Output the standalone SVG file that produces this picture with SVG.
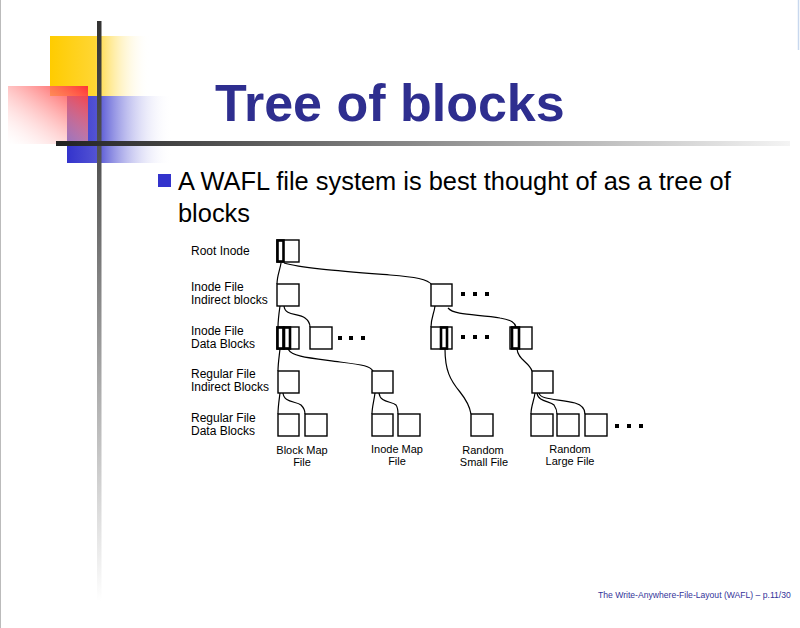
<svg xmlns="http://www.w3.org/2000/svg" width="800" height="628" viewBox="0 0 800 628">
<defs>
<linearGradient id="gy" x1="0" y1="0" x2="1" y2="0"><stop offset="0" stop-color="#ffcc00"/><stop offset="0.45" stop-color="#ffd633"/><stop offset="1" stop-color="#ffffff" stop-opacity="0"/></linearGradient>
<linearGradient id="gr" x1="1" y1="0" x2="0" y2="1"><stop offset="0" stop-color="#ff3333"/><stop offset="1" stop-color="#ffffff" stop-opacity="0.2"/></linearGradient>
<linearGradient id="gb" x1="0" y1="0" x2="1" y2="0"><stop offset="0" stop-color="#3333cc"/><stop offset="0.3" stop-color="#5555d4"/><stop offset="1" stop-color="#ffffff" stop-opacity="0"/></linearGradient>
<linearGradient id="gv" x1="0" y1="0" x2="0" y2="1"><stop offset="0" stop-color="#333333"/><stop offset="0.25" stop-color="#555555"/><stop offset="1" stop-color="#ffffff"/></linearGradient>
<linearGradient id="gh" x1="0" y1="0" x2="1" y2="0"><stop offset="0" stop-color="#222222"/><stop offset="0.4" stop-color="#777777"/><stop offset="1" stop-color="#f4f4f4"/></linearGradient>
<style>
.lbl{font-family:"Liberation Sans",Arial,sans-serif;font-size:12px;fill:#000}
.sm{font-size:11px;text-anchor:middle}
.box{fill:#fff;stroke:#000;stroke-width:1.4}
.bold{fill:none;stroke:#000;stroke-width:2.6}
.dot{fill:#000}
.con{fill:none;stroke:#000;stroke-width:1.2}
</style>
</defs>
<rect width="800" height="628" fill="#fff"/>
<line x1="0.5" y1="0" x2="0.5" y2="628" stroke="#bbbbbb" stroke-width="1"/>
<line x1="798.5" y1="0" x2="798.5" y2="50" stroke="#c8d8ee" stroke-width="1.5"/>
<g id="decor">
<rect x="50" y="36" width="100" height="60" fill="url(#gy)"/>
<rect x="67" y="96" width="105" height="67" fill="url(#gb)"/>
<rect x="8" y="86" width="80" height="58" fill="url(#gr)"/>
<rect x="97" y="21" width="4.5" height="580" fill="url(#gv)"/>
<rect x="56" y="141" width="734" height="5" fill="url(#gh)"/>
</g>
<text x="215" y="121" font-family="Liberation Sans,Arial,sans-serif" font-size="52" font-weight="bold" fill="#2e2e8f">Tree of blocks</text>
<rect x="158" y="174" width="13" height="13" fill="#3333cc"/>
<text x="178" y="190" font-family="Liberation Sans,Arial,sans-serif" font-size="25.4" fill="#000">A WAFL file system is best thought of as a tree of</text>
<text x="178" y="222" font-family="Liberation Sans,Arial,sans-serif" font-size="25.4" fill="#000">blocks</text>
<g id="labels">
<text class="lbl" x="191" y="255">Root Inode</text>
<text class="lbl" x="191" y="291">Inode File</text>
<text class="lbl" x="191" y="304">Indirect blocks</text>
<text class="lbl" x="191" y="335">Inode File</text>
<text class="lbl" x="191" y="348">Data Blocks</text>
<text class="lbl" x="191" y="378">Regular File</text>
<text class="lbl" x="191" y="391">Indirect Blocks</text>
<text class="lbl" x="191" y="422">Regular File</text>
<text class="lbl" x="191" y="435">Data Blocks</text>
<text class="lbl sm" x="302" y="454">Block Map</text>
<text class="lbl sm" x="302" y="466">File</text>
<text class="lbl sm" x="397" y="453">Inode Map</text>
<text class="lbl sm" x="397" y="465">File</text>
<text class="lbl sm" x="483" y="454">Random</text>
<text class="lbl sm" x="484" y="466">Small File</text>
<text class="lbl sm" x="570" y="453">Random</text>
<text class="lbl sm" x="570" y="465">Large File</text>
</g>
<g id="connectors">
<path class="con" d="M281,263 C280,270 277,276 277,284"/>
<path class="con" d="M284,263 C300,268 340,271 390,275 C415,277 428,279 432,285"/>
<path class="con" d="M280,306 C279,313 278,320 278,327"/>
<path class="con" d="M284,306 C285,316 298,313 305,318 C309,321 310,324 310,327"/>
<path class="con" d="M435,306 C434,314 431,318 431,327"/>
<path class="con" d="M448,308 C455,316 480,314 500,318 C512,320 515,323 516,327"/>
<path class="con" d="M280,349 C279,358 278,364 278,371"/>
<path class="con" d="M288,349 C292,357 310,358 340,362 C364,365 370,366 373,371"/>
<path class="con" d="M445,349 C445,370 450,380 460,392 C468,402 470,408 471,414"/>
<path class="con" d="M517,349 C518,360 529,362 532,371"/>
<path class="con" d="M280,393 C279,401 278,407 278,414"/>
<path class="con" d="M283,393 C284,403 296,401 301,405 C304,408 305,411 305,414"/>
<path class="con" d="M375,393 C374,401 372,407 372,414"/>
<path class="con" d="M379,393 C380,403 392,401 396,405 C398,408 398,411 398,414"/>
<path class="con" d="M535,393 C534,401 531,406 531,414"/>
<path class="con" d="M537,393 C538,402 550,401 554,405 C556,408 557,411 557,414"/>
<path class="con" d="M539,393 C540,400 560,399 575,403 C582,405 585,409 585,414"/>
</g>
<g id="n-root"><rect class="box" x="277" y="240" width="22" height="22"/><rect class="bold" x="277.5" y="240.5" width="6" height="21"/></g>
<g id="n-ifi1"><rect class="box" x="277" y="284" width="22" height="22"/></g>
<g id="n-ifi2"><rect class="box" x="431" y="284" width="21" height="22"/>
<rect class="dot" x="461" y="292" width="4" height="4"/><rect class="dot" x="473" y="292" width="4" height="4"/><rect class="dot" x="485" y="292" width="4" height="4"/></g>
<g id="n-ifd1"><rect class="box" x="277" y="327" width="22" height="22"/><rect class="bold" x="277.5" y="327.5" width="6" height="21"/><rect class="bold" x="284" y="327.5" width="6" height="21"/></g>
<g id="n-ifd2"><rect class="box" x="310" y="327" width="22" height="22"/>
<rect class="dot" x="338" y="336" width="4" height="4"/><rect class="dot" x="349" y="336" width="4" height="4"/><rect class="dot" x="361" y="336" width="4" height="4"/></g>
<g id="n-ifd3"><rect class="box" x="431" y="327" width="21" height="22"/><rect class="bold" x="441" y="327.5" width="6" height="21"/>
<rect class="dot" x="461" y="335" width="4" height="4"/><rect class="dot" x="473" y="335" width="4" height="4"/><rect class="dot" x="485" y="335" width="4" height="4"/></g>
<g id="n-ifd4"><rect class="box" x="510" y="327" width="22" height="22"/><rect class="bold" x="512" y="327.5" width="7" height="21"/></g>
<g id="n-ri1"><rect class="box" x="278" y="371" width="21" height="22"/></g>
<g id="n-ri2"><rect class="box" x="372" y="371" width="21" height="22"/></g>
<g id="n-ri3"><rect class="box" x="532" y="371" width="21" height="22"/></g>
<g id="n-bm"><rect class="box" x="278" y="414" width="21" height="22"/><rect class="box" x="305" y="414" width="22" height="22"/></g>
<g id="n-im"><rect class="box" x="372" y="414" width="21" height="22"/><rect class="box" x="398" y="414" width="22" height="22"/></g>
<g id="n-rs"><rect class="box" x="471" y="414" width="22" height="22"/></g>
<g id="n-rl"><rect class="box" x="531" y="414" width="22" height="22"/><rect class="box" x="557" y="414" width="22" height="22"/><rect class="box" x="585" y="414" width="22" height="22"/>
<rect class="dot" x="615" y="424" width="4" height="4"/><rect class="dot" x="627" y="424" width="4" height="4"/><rect class="dot" x="639" y="424" width="4" height="4"/></g>
<text x="598" y="598" font-family="Liberation Sans,Arial,sans-serif" font-size="8.6" fill="#333399">The Write-Anywhere-File-Layout (WAFL) – p.11/30</text>
</svg>
